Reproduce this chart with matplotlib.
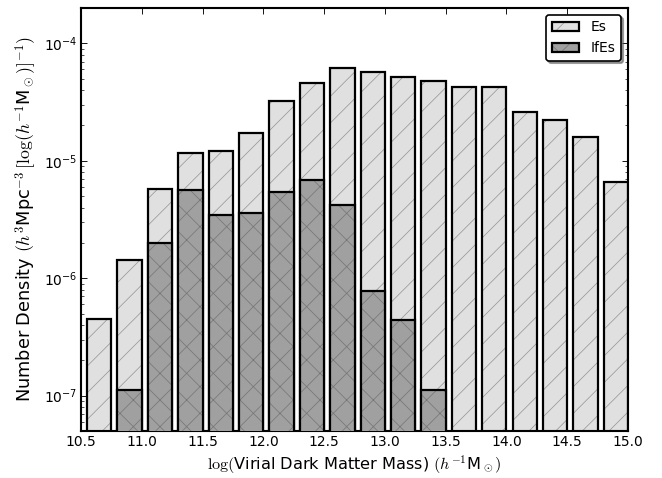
import matplotlib
matplotlib.use("Agg")
import matplotlib.pyplot as plt
from matplotlib.ticker import MultipleLocator, FormatStrFormatter
import numpy as np

# 质量分箱 (左边界) 与两类星系的数密度
bin_left = [10.50, 10.75, 11.00, 11.25, 11.50, 11.75, 12.00, 12.25, 12.50,
            12.75, 13.00, 13.25, 13.50, 13.75, 14.00, 14.25, 14.50, 14.75]
es_density = [4.45e-7, 1.43e-6, 5.8e-6, 1.16e-5, 1.22e-5, 1.73e-5, 3.26e-5, 4.63e-5, 6.2e-5,
              5.74e-5, 5.14e-5, 4.82e-5, 4.23e-5, 4.23e-5, 2.62e-5, 2.22e-5, 1.6e-5, 6.56e-6]
ifes_density = [0, 1.11e-7, 1.99e-6, 5.61e-6, 3.44e-6, 3.56e-6, 5.42e-6, 6.83e-6, 4.2e-6,
                7.78e-7, 4.4e-7, 1.1e-7, 0, 0, 0, 0, 0, 0]
bin_width = 0.25
bar_width = 0.2

plt.rcParams['axes.unicode_minus'] = False
plt.rcParams['mathtext.fontset'] = 'cm'
plt.rcParams['xtick.direction'] = 'in'
plt.rcParams['ytick.direction'] = 'in'
plt.rcParams['xtick.top'] = True
plt.rcParams['ytick.right'] = True
plt.rcParams['xtick.major.size'] = 5
plt.rcParams['ytick.major.size'] = 5
plt.rcParams['ytick.minor.size'] = 2.5
plt.rcParams['hatch.linewidth'] = 0.7

# 80 dpi 画布, 阴影线密度随 dpi 变化
fig = plt.figure(figsize=(662 / 80, 478 / 80), dpi=80)
ax = fig.add_axes([0.1224, 0.0983, 0.8262, 0.885])

x = np.array(bin_left) + (bin_width - bar_width)
es = np.array(es_density)
ifes = np.array(ifes_density)

# 先画带阴影线的填充 (阴影线为灰色), 再叠加黑色外框
es_fill = ax.bar(x, es, width=bar_width, align='edge', bottom=1e-9, facecolor='#e0e0e0',
                 edgecolor='#999999', hatch='/', linewidth=0, zorder=2)
es_edge = ax.bar(x, es, width=bar_width, align='edge', bottom=1e-9, facecolor='none',
                 edgecolor='black', linewidth=2.0, zorder=3)
mask = ifes > 0
if_fill = ax.bar(x[mask], ifes[mask], width=bar_width, align='edge', bottom=1e-9,
                 facecolor='#a0a0a0', edgecolor='#787878', hatch='x', linewidth=0, zorder=4)
if_edge = ax.bar(x[mask], ifes[mask], width=bar_width, align='edge', bottom=1e-9,
                 facecolor='none', edgecolor='black', linewidth=2.0, zorder=5)

ax.set_yscale('log')
ax.set_ylim(5e-8, 2e-4)
ax.set_xlim(10.5, 15.0)
ax.xaxis.set_major_locator(MultipleLocator(0.5))
ax.xaxis.set_major_formatter(FormatStrFormatter('%.1f'))
ax.tick_params(labelsize=12.5)
for s in ax.spines.values():
    s.set_linewidth(1.9)

ax.set_xlabel(r'$\log($Virial Dark Matter Mass) $(h^{-1}$M$_\odot)$', fontsize=14.5)
ax.set_ylabel(r'Number Density $(h^3$Mpc$^{-3}\,[\log(h^{-1}$M$_\odot)]^{-1})$', fontsize=16)

leg = ax.legend([(es_fill, es_edge), (if_fill, if_edge)], ['Es', 'IfEs'],
                loc='upper right', fontsize=12.5, fancybox=True, shadow=True, framealpha=1,
                edgecolor='black')
leg.get_frame().set_linewidth(1.5)

fig.savefig('out.png', dpi=80)
